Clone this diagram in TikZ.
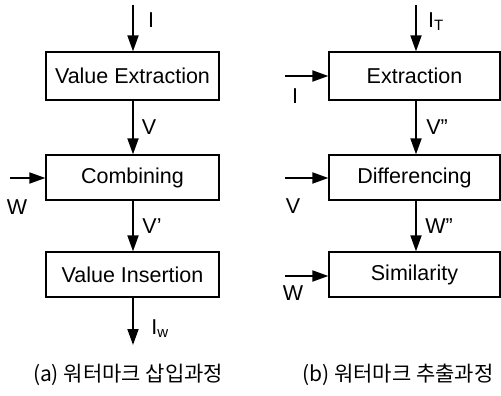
\documentclass[tikz,border=0pt]{standalone}
\usepackage{fontspec}
\setmainfont{Liberation Sans}
\newfontfamily\krfont{Noto Sans CJK KR}
\usetikzlibrary{arrows.meta}
\begin{document}
\begin{tikzpicture}[x=1pt,y=-1pt,
  procbox/.style={draw,line width=1.3pt,inner sep=0pt,font=\fontsize{21.5}{24}\selectfont},
  flow/.style={line width=1.8pt,-{Triangle[length=16pt,width=11pt]}},
  lbl/.style={inner sep=0pt,font=\fontsize{21.5}{24}\selectfont},
  captext/.style={inner sep=0pt,font=\krfont\fontsize{21}{24}\selectfont}]
\useasboundingbox (0,0) rectangle (501,396);
% left column
\node[procbox,minimum width=173pt,minimum height=48pt] (ve) at (132.5,76) {Value Extraction};
\node[procbox,minimum width=173pt,minimum height=45pt] (cb) at (132.5,177.5) {Combining};
\node[procbox,minimum width=173pt,minimum height=45pt] (vi) at (132.5,274.5) {Value Insertion};
\coordinate (lin) at (133,5);
\coordinate (lout) at (133,345);
\coordinate (lw) at (10,178);
\draw[flow] (lin) -- (ve.north -| lin);
\draw[flow] (ve.south -| lin) -- (cb.north -| lin);
\draw[flow] (cb.south -| lin) -- (vi.north -| lin);
\draw[flow] (vi.south -| lin) -- (lout);
\draw[flow] (lw) -- (lw -| cb.west);
\node[lbl] (l1) at (151,20) {I};
\node[lbl] (l2) at (149,127) {V};
\node[lbl] (l3) at (152,226) {V'};
\node[lbl] (l4) at (160,329) {I\textsubscript{\fontsize{15}{16}\selectfont w}};
\node[lbl] (l5) at (17,207) {W};
% right column
\node[procbox,minimum width=171pt,minimum height=48pt] (ex) at (414.5,76) {Extraction};
\node[procbox,minimum width=171pt,minimum height=45pt] (df) at (414.5,177.5) {Differencing};
\node[procbox,minimum width=171pt,minimum height=45pt] (sm) at (414.5,274.5) {Similarity};
\coordinate (rin) at (416,5);
\coordinate (ri) at (285,76);
\coordinate (rv) at (285,178);
\coordinate (rw) at (285,276);
\draw[flow] (rin) -- (ex.north -| rin);
\draw[flow] (ex.south -| rin) -- (df.north -| rin);
\draw[flow] (df.south -| rin) -- (sm.north -| rin);
\draw[flow] (ri) -- (ri -| ex.west);
\draw[flow] (rv) -- (rv -| df.west);
\draw[flow] (rw) -- (rw -| sm.west);
\node[lbl] (r1) at (436,22) {I\textsubscript{\fontsize{15}{16}\selectfont T}};
\node[lbl] (r2) at (295,96) {I};
\node[lbl] (r3) at (437,127) {V"};
\node[lbl] (r4) at (293,206) {V};
\node[lbl] (r5) at (439,226) {W"};
\node[lbl] (r6) at (293,293) {W};
% captions
\node[captext] (ca) at (128,375) {(a) 워터마크 삽입과정};
\node[captext] (cb2) at (398,375) {(b) 워터마크 추출과정};
\end{tikzpicture}
\end{document}
